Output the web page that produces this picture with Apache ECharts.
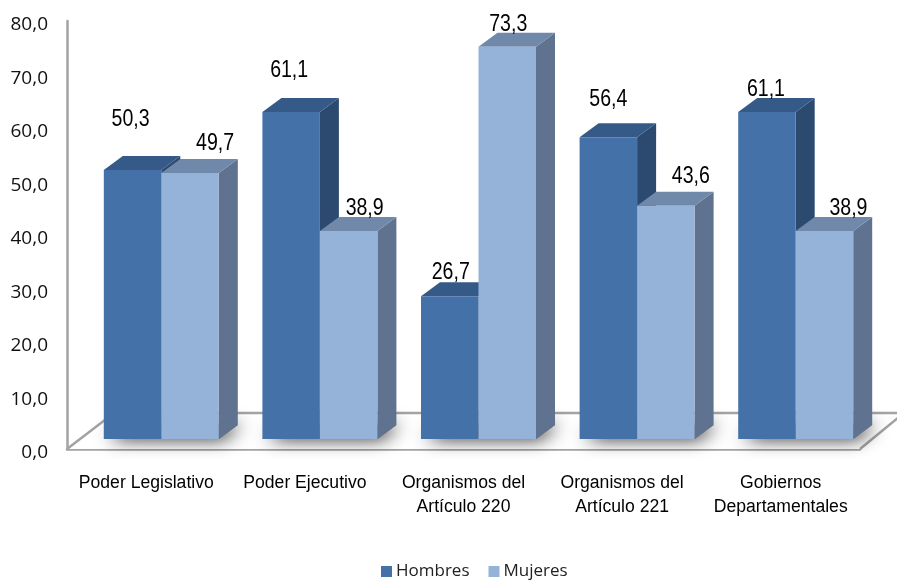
<!DOCTYPE html>
<html>
<head>
<meta charset="utf-8">
<style>
html, body { margin: 0; padding: 0; background: #fff; }
#main { width: 897px; height: 581px; }
</style>
<script src="https://cdn.jsdelivr.net/npm/echarts@6/dist/echarts.min.js"></script>
</head>
<body>
<div id="main"></div>
<script>
var categories = ['Poder Legislativo', 'Poder Ejecutivo', 'Organismos del\nArtículo 220', 'Organismos del\nArtículo 221', 'Gobiernos\nDepartamentales'];
var hombres = [50.3, 61.1, 26.7, 56.4, 61.1];
var mujeres = [49.7, 38.9, 73.3, 43.6, 38.9];

// hand placed labels in the original, offset from the top centre of the bar
var hombresNudge = [[-2, -50], [-2, -41], [1, -23], [0, -38], [-1, -22]];
var mujeresNudge = [[25, -29], [16, -22], [1, -22], [25, -29], [24, -22]];

var liftX = 15, liftY = 10;   // front plane of the bars against the axis plane
var depthX = 19, depthY = 14; // 3d depth
var barW = 57.5;
var axisGray = '#a3a3a3';

var myChart = echarts.init(document.getElementById('main'));

function poly(points, fill) {
    return { type: 'polygon', shape: { points: points }, style: { fill: fill } };
}

function barSeries(name, values, nudge, side, colors) {
    return {
        name: name,
        type: 'custom',
        itemStyle: { color: colors.front },
        data: values.map(function (v, i) { return [i, v]; }),
        z: side < 0 ? 3 : 4,
        renderItem: function (params, api) {
            var top = api.coord([api.value(0), api.value(1)]);
            var base = api.coord([api.value(0), 0]);
            var x0 = top[0] + liftX + (side < 0 ? -barW : 0);
            var x1 = x0 + barW;
            var y0 = top[1] - liftY;
            var y1 = base[1] - liftY;
            var n = nudge[params.dataIndex];
            return {
                type: 'group',
                children: [
                    poly([[x1, y0], [x1 + depthX, y0 - depthY], [x1 + depthX, y1 - depthY], [x1, y1]], colors.side),
                    poly([[x0, y0], [x0 + depthX, y0 - depthY], [x1 + depthX, y0 - depthY], [x1, y0]], colors.top),
                    { type: 'rect', shape: { x: x0, y: y0, width: barW, height: y1 - y0 }, style: { fill: colors.front } },
                    {
                        type: 'text',
                        z2: 10,
                        x: (x0 + x1) / 2 + n[0],
                        y: y0 + n[1],
                        scaleX: 0.85,
                        style: {
                            text: api.value(1).toFixed(1).replace('.', ','),
                            align: 'center',
                            verticalAlign: 'middle',
                            fill: '#000',
                            font: '23px "Liberation Sans", sans-serif'
                        }
                    }
                ]
            };
        }
    };
}

var option = {
    animation: false,
    backgroundColor: '#fff',
    legend: {
        data: ['Hombres', 'Mujeres'],
        left: 376,
        top: 558,
        icon: 'rect',
        itemWidth: 11,
        itemHeight: 11,
        itemGap: 19,
        textStyle: { color: '#222', fontSize: 17, fontFamily: 'Open Sans', padding: [0, 0, 0, -1] }
    },
    grid: { left: 67, right: 37, top: 21, bottom: 132 },
    xAxis: {
        type: 'category',
        data: categories,
        axisTick: { show: false },
        axisLine: { lineStyle: { color: axisGray, width: 2.5 } },
        axisLabel: {
            color: '#000',
            fontSize: 17.6,
            lineHeight: 24,
            margin: 22,
            interval: 0,
            fontFamily: '"Liberation Sans", sans-serif'
        }
    },
    yAxis: {
        type: 'value',
        min: 0,
        max: 80,
        interval: 10,
        splitLine: { show: false },
        axisTick: { show: false },
        axisLine: { show: true, lineStyle: { color: axisGray, width: 2.5 } },
        axisLabel: {
            margin: 19,
            formatter: function (v) { return '{t|' + v.toFixed(1).replace('.', ',') + '}'; },
            rich: {
                t: { color: '#111', fontSize: 19, fontFamily: 'Open Sans', padding: [8, 0, 0, 0] }
            }
        }
    },
    series: [
        {
            // floor of the 3d box
            type: 'custom',
            z: 1,
            data: [[0, 0]],
            renderItem: function (params, api) {
                var o = api.coord([0, 0]);
                var left = params.coordSys.x;
                var right = left + params.coordSys.width;
                var y = o[1];
                var backY = y - 36;
                return {
                    type: 'group',
                    children: [{
                        type: 'polyline',
                        shape: { points: [[left, y], [left + 47, backY], [right + 44, backY], [right, y]] },
                        style: { fill: '#fff', stroke: axisGray, lineWidth: 2.5 }
                    }]
                };
            }
        },
        {
            // soft shadow round the foot of each pair of bars
            type: 'custom',
            z: 2,
            data: categories.map(function (c, i) { return [i, 0]; }),
            renderItem: function (params, api) {
                var c = api.coord([api.value(0), 0]);
                var x0 = c[0] + liftX - barW, x1 = c[0] + liftX + barW;
                var y = c[1] - liftY;
                return {
                    type: 'polygon',
                    shape: { points: [[x0, y], [x1, y], [x1 + depthX, y - depthY], [x0 + depthX, y - depthY]] },
                    style: { fill: '#666', shadowBlur: 18, shadowColor: 'rgba(0,0,0,0.9)', shadowOffsetX: 4, shadowOffsetY: 0 }
                };
            }
        },
        barSeries('Hombres', hombres, hombresNudge, -1, { front: '#4472a8', top: '#365a88', side: '#2c4a70' }),
        barSeries('Mujeres', mujeres, mujeresNudge, 1, { front: '#95b3d9', top: '#7088aa', side: '#5f7390' })
    ]
};
myChart.setOption(option);
</script>
</body>
</html>
